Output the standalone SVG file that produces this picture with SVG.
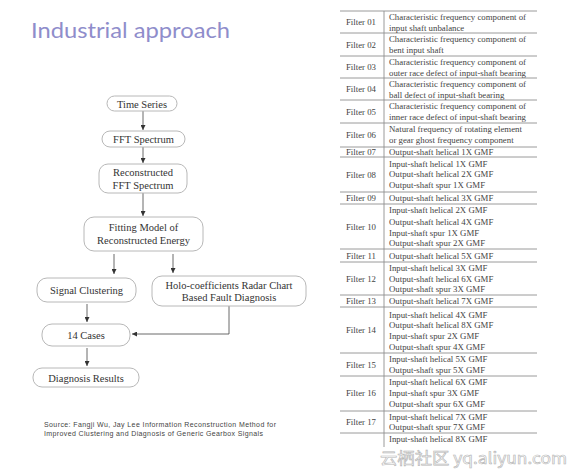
<svg xmlns="http://www.w3.org/2000/svg" width="578" height="471" viewBox="0 0 578 471">
<defs>
<marker id="ah" viewBox="0 0 8 8" refX="8" refY="4" markerWidth="5" markerHeight="5" orient="auto" markerUnits="userSpaceOnUse">
<path d="M0,0 L8,4 L0,8 z" fill="#333"/>
</marker>
</defs>
<style>
.box{fill:#fff;stroke:#b8b8b8;stroke-width:1}
.bt{font-family:"Liberation Serif","Times New Roman",serif;font-size:10.5px;fill:#333;text-anchor:middle}
.con{fill:none;stroke:#444;stroke-width:0.8;marker-end:url(#ah)}
.tl{stroke:#8f8f8f;stroke-width:0.9}
.tt{font-family:"Liberation Serif","Times New Roman",serif;font-size:8.8px;fill:#444}
.lb{text-anchor:middle}
.src{font-family:"Liberation Sans",Arial,sans-serif;font-size:7px;fill:#444}
</style>
<rect width="578" height="471" fill="#fff"/>
<text x="31" y="38" font-family="Lato,'Liberation Sans',sans-serif" font-size="21" fill="#8f8dcb" textLength="199" lengthAdjust="spacingAndGlyphs">Industrial approach</text>

<g id="connectors">
<path class="con" d="M143,111 V130"/>
<path class="con" d="M143,147 V163"/>
<path class="con" d="M143,193 V216"/>
<path class="con" d="M114,254 V274"/>
<path class="con" d="M173,254 V273"/>
<path class="con" d="M87,304 V322"/>
<path class="con" d="M229,306 V334 H132"/>
<path class="con" d="M87,348 V366"/>
</g>

<g id="n-time"><rect class="box" x="107" y="96" width="70" height="15" rx="7.5"/><text class="bt" x="142" y="107.5">Time Series</text></g>
<g id="n-fft"><rect class="box" x="102" y="131" width="83" height="16" rx="8"/><text class="bt" x="143.5" y="143">FFT Spectrum</text></g>
<g id="n-recon"><rect class="box" x="99" y="164" width="88" height="29" rx="9"/><text class="bt" x="143" y="176">Reconstructed</text><text class="bt" x="143" y="188.5">FFT Spectrum</text></g>
<g id="n-fit"><rect class="box" x="84" y="217" width="119" height="34" rx="10"/><text class="bt" x="143.5" y="231">Fitting Model of</text><text class="bt" x="143.5" y="244">Reconstructed Energy</text></g>
<g id="n-cluster"><rect class="box" x="37" y="278" width="99" height="24" rx="10"/><text class="bt" x="86.5" y="294">Signal Clustering</text></g>
<g id="n-holo"><rect class="box" x="152" y="276" width="154" height="30" rx="10"/><text class="bt" x="229" y="288.5">Holo-coefficients Radar Chart</text><text class="bt" x="229" y="301">Based Fault Diagnosis</text></g>
<g id="n-cases"><rect class="box" x="42" y="324" width="88" height="22" rx="10"/><text class="bt" x="86" y="338.5">14 Cases</text></g>
<g id="n-diag"><rect class="box" x="33" y="368" width="106" height="19" rx="9"/><text class="bt" x="86" y="381.5">Diagnosis Results</text></g>

<g id="source">
<text class="src" x="44" y="427" textLength="232" lengthAdjust="spacing">Source: Fangji Wu, Jay Lee Information  Reconstruction Method for</text>
<text class="src" x="44" y="436" textLength="219" lengthAdjust="spacing">Improved Clustering and Diagnosis of Generic Gearbox Signals</text>
</g>

<g id="table">
<g class="tl">
<line x1="340" y1="11" x2="537" y2="11"/>
<line x1="340" y1="33" x2="537" y2="33"/>
<line x1="340" y1="56" x2="537" y2="56"/>
<line x1="340" y1="78" x2="537" y2="78"/>
<line x1="340" y1="100" x2="537" y2="100"/>
<line x1="340" y1="123" x2="537" y2="123"/>
<line x1="340" y1="147" x2="537" y2="147"/>
<line x1="340" y1="157" x2="537" y2="157"/>
<line x1="340" y1="192" x2="537" y2="192"/>
<line x1="340" y1="204" x2="537" y2="204"/>
<line x1="340" y1="249" x2="537" y2="249"/>
<line x1="340" y1="262" x2="537" y2="262"/>
<line x1="340" y1="295" x2="537" y2="295"/>
<line x1="340" y1="307" x2="537" y2="307"/>
<line x1="340" y1="353" x2="537" y2="353"/>
<line x1="340" y1="376" x2="537" y2="376"/>
<line x1="340" y1="411" x2="537" y2="411"/>
<line x1="340" y1="433" x2="537" y2="433"/>
<line x1="384" y1="11" x2="384" y2="447"/>
</g>
<g class="tt">
<text class="lb" x="361" y="25">Filter 01</text>
<text x="389" y="20">Characteristic frequency component of</text>
<text x="389" y="31">input shaft unbalance</text>
<text class="lb" x="361" y="47.5">Filter 02</text>
<text x="389" y="42">Characteristic frequency component of</text>
<text x="389" y="53">bent input shaft</text>
<text class="lb" x="361" y="70">Filter 03</text>
<text x="389" y="64.5">Characteristic frequency component of</text>
<text x="389" y="75.5">outer race defect of input-shaft bearing</text>
<text class="lb" x="361" y="92">Filter 04</text>
<text x="389" y="86.5">Characteristic frequency component of</text>
<text x="389" y="97.5">ball defect of input-shaft bearing</text>
<text class="lb" x="361" y="114.5">Filter 05</text>
<text x="389" y="109">Characteristic frequency component of</text>
<text x="389" y="120">inner race defect of input-shaft bearing</text>
<text class="lb" x="361" y="138">Filter 06</text>
<text x="389" y="132">Natural frequency of rotating element</text>
<text x="389" y="143">or gear ghost frequency component</text>
<text class="lb" x="361" y="155">Filter 07</text>
<text x="389" y="155">Output-shaft helical 1X GMF</text>
<text class="lb" x="361" y="177.5">Filter 08</text>
<text x="389" y="166.5">Input-shaft helical 1X GMF</text>
<text x="389" y="177">Output-shaft helical 2X GMF</text>
<text x="389" y="187.5">Output-shaft spur 1X GMF</text>
<text class="lb" x="361" y="201">Filter 09</text>
<text x="389" y="201">Output-shaft helical 3X GMF</text>
<text class="lb" x="361" y="229.5">Filter 10</text>
<text x="389" y="213">Input-shaft helical 2X GMF</text>
<text x="389" y="224.5">Output-shaft helical 4X GMF</text>
<text x="389" y="235.5">Input-shaft spur 1X GMF</text>
<text x="389" y="246">Output-shaft spur 2X GMF</text>
<text class="lb" x="361" y="258.5">Filter 11</text>
<text x="389" y="258.5">Output-shaft helical 5X GMF</text>
<text class="lb" x="361" y="281.5">Filter 12</text>
<text x="389" y="270.5">Input-shaft helical 3X GMF</text>
<text x="389" y="281.5">Output-shaft helical 6X GMF</text>
<text x="389" y="292">Output-shaft spur 3X GMF</text>
<text class="lb" x="361" y="304">Filter 13</text>
<text x="389" y="304">Output-shaft helical 7X GMF</text>
<text class="lb" x="361" y="333">Filter 14</text>
<text x="389" y="317.5">Input-shaft helical 4X GMF</text>
<text x="389" y="328">Output-shaft helical 8X GMF</text>
<text x="389" y="339">Input-shaft spur 2X GMF</text>
<text x="389" y="350">Output-shaft spur 4X GMF</text>
<text class="lb" x="361" y="367.5">Filter 15</text>
<text x="389" y="362">Input-shaft helical 5X GMF</text>
<text x="389" y="373">Output-shaft spur 5X GMF</text>
<text class="lb" x="361" y="396">Filter 16</text>
<text x="389" y="384.5">Input-shaft helical 6X GMF</text>
<text x="389" y="395.5">Input-shaft spur 3X GMF</text>
<text x="389" y="406.5">Output-shaft spur 6X GMF</text>
<text class="lb" x="361" y="425">Filter 17</text>
<text x="389" y="419.5">Input-shaft helical 7X GMF</text>
<text x="389" y="430">Output-shaft spur 7X GMF</text>
<text x="389" y="441.5">Input-shaft helical 8X GMF</text>
</g>
</g>

<text x="380" y="464" font-family="'Noto Sans CJK SC','Noto Sans',sans-serif" font-size="15.5" fill="#fff" stroke="#b5b5b5" stroke-width="0.6" textLength="187" lengthAdjust="spacingAndGlyphs">云栖社区 yq.aliyun.com</text>
</svg>
